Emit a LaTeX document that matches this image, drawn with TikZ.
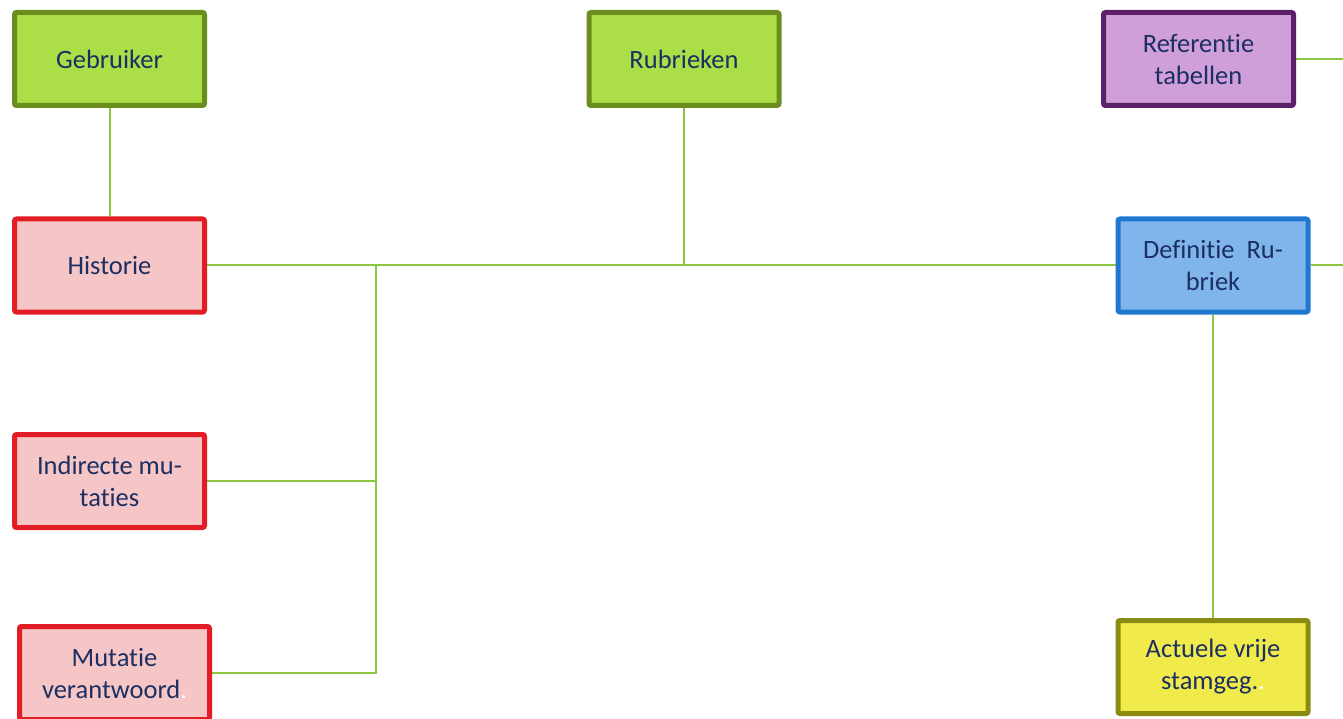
\documentclass[tikz,border=0pt]{standalone}
\usepackage{fontspec}
\setmainfont{Carlito}[Ligatures={NoCommon}]
\usetikzlibrary{backgrounds}
\definecolor{txt}{HTML}{1B2F63}
\definecolor{link}{HTML}{8CC63F}
\definecolor{gfill}{HTML}{ABDE47}
\definecolor{gdraw}{HTML}{6A8E1E}
\definecolor{pfill}{HTML}{D09ED9}
\definecolor{pdraw}{HTML}{5B2068}
\definecolor{rfill}{HTML}{F6C6C6}
\definecolor{rdraw}{HTML}{E21D26}
\definecolor{bfill}{HTML}{80B5EC}
\definecolor{bdraw}{HTML}{1F77CF}
\definecolor{yfill}{HTML}{F0EA4A}
\definecolor{ydraw}{HTML}{8B8B12}
\tikzset{
  box/.style={rectangle, rounded corners=2pt, line width=5pt, minimum width=190pt, minimum height=93pt,
    align=center, text=txt, font=\fontsize{26.5}{32}\selectfont, inner sep=0pt},
  greenbox/.style={box, draw=gdraw, fill=gfill},
  purplebox/.style={box, draw=pdraw, fill=pfill},
  redbox/.style={box, draw=rdraw, fill=rfill},
  bluebox/.style={box, draw=bdraw, fill=bfill},
  yellowbox/.style={box, draw=ydraw, fill=yfill},
  conn/.style={draw=link, line width=2pt}
}
\begin{document}
\begin{tikzpicture}[x=1pt,y=-1pt]
\useasboundingbox (0,0) rectangle (1343,719);
\node[greenbox] (geb) at (109.5,59) {Gebruiker};
\node[greenbox] (rub) at (684,59) {Rubrieken};
\node[purplebox] (ref) at (1198.5,59) {Referentie\\tabellen};
\node[redbox] (hist) at (109.5,265.5) {Historie};
\node[bluebox] (def) at (1213,265.5) {Definitie\ \ Ru-\\briek};
\node[redbox] (ind) at (109.5,481) {Indirecte mu-\\taties};
\node[redbox] (mut) at (114.5,673) {Mutatie\\verantwoord\textcolor{white}{.}};
\node[yellowbox] (act) at (1213,667) {Actuele vrije\\stamgeg.\textcolor{white}{.}};
\coordinate (jv) at (376,265.5);
\coordinate (e1) at (1345,59);
\coordinate (e2) at (1345,265.5);
\begin{scope}[on background layer]
\draw[conn] (geb.south) -- (hist.north);
\draw[conn] (hist.east) -- (def.west);
\draw[conn] (rub.south) -- (rub.south |- hist.east);
\draw[conn] (jv) |- (mut.east);
\draw[conn] (ind.east) -- (ind.east -| jv);
\draw[conn] (ref.east) -- (e1);
\draw[conn] (def.east) -- (e2);
\draw[conn] (def.south) -- (act.north);
\end{scope}
\end{tikzpicture}
\end{document}
